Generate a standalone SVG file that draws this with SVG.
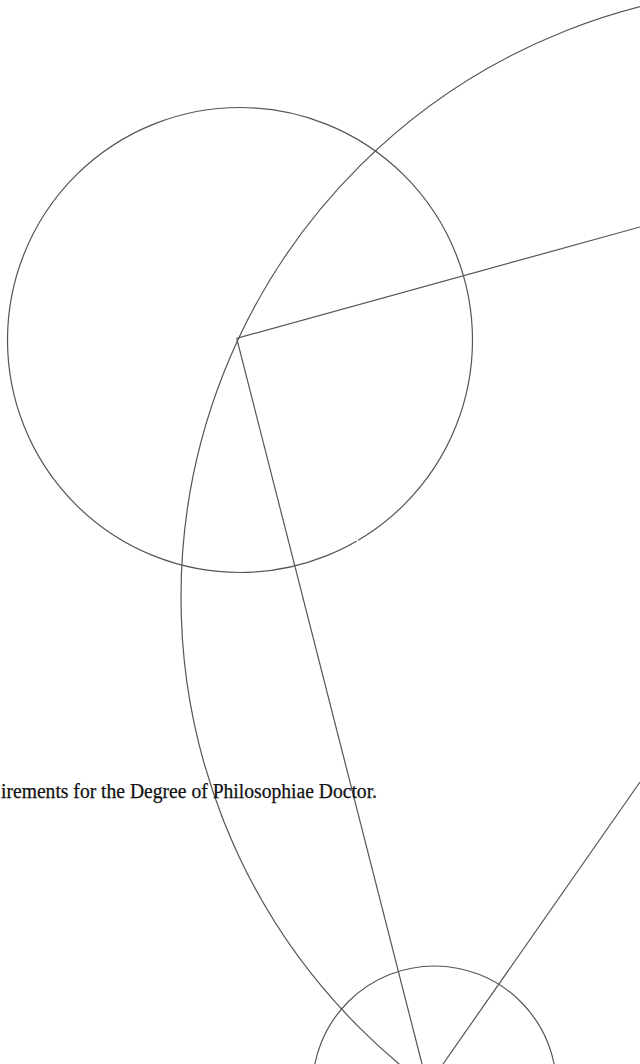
<svg xmlns="http://www.w3.org/2000/svg" width="640" height="1064" viewBox="0 0 640 1064">
  <style>
    .ln { fill: none; stroke: #555555; stroke-width: 1.2; }
    .txt { font-family: "Liberation Serif", "DejaVu Serif", serif; font-size: 20.5px; fill: #111111; stroke: #111111; stroke-width: 0.25; }
  </style>
  <rect x="0" y="0" width="640" height="1064" fill="#ffffff"/>
  <g id="shapes">
    <circle id="circle-left" class="ln" cx="240" cy="340" r="232.5"/>
    <circle id="circle-big" class="ln" cx="790" cy="597" r="609"/>
    <circle id="circle-small" class="ln" cx="434.5" cy="1088" r="122"/>
    <line x1="356.2" y1="538.6" x2="358.2" y2="542.0" stroke="#ffffff" stroke-width="1.6"/>
  </g>
  <g id="connectors">
    <line class="ln" x1="236.7" y1="338.3" x2="640" y2="227"/>
    <line class="ln" x1="236.7" y1="338.3" x2="422" y2="1064"/>
    <line class="ln" x1="443" y1="1064" x2="640" y2="782"/>
  </g>
  <g id="caption">
    <text class="txt" x="1" y="797.5" textLength="376" lengthAdjust="spacingAndGlyphs">irements for the Degree of Philosophiae Doctor.</text>
  </g>
</svg>
